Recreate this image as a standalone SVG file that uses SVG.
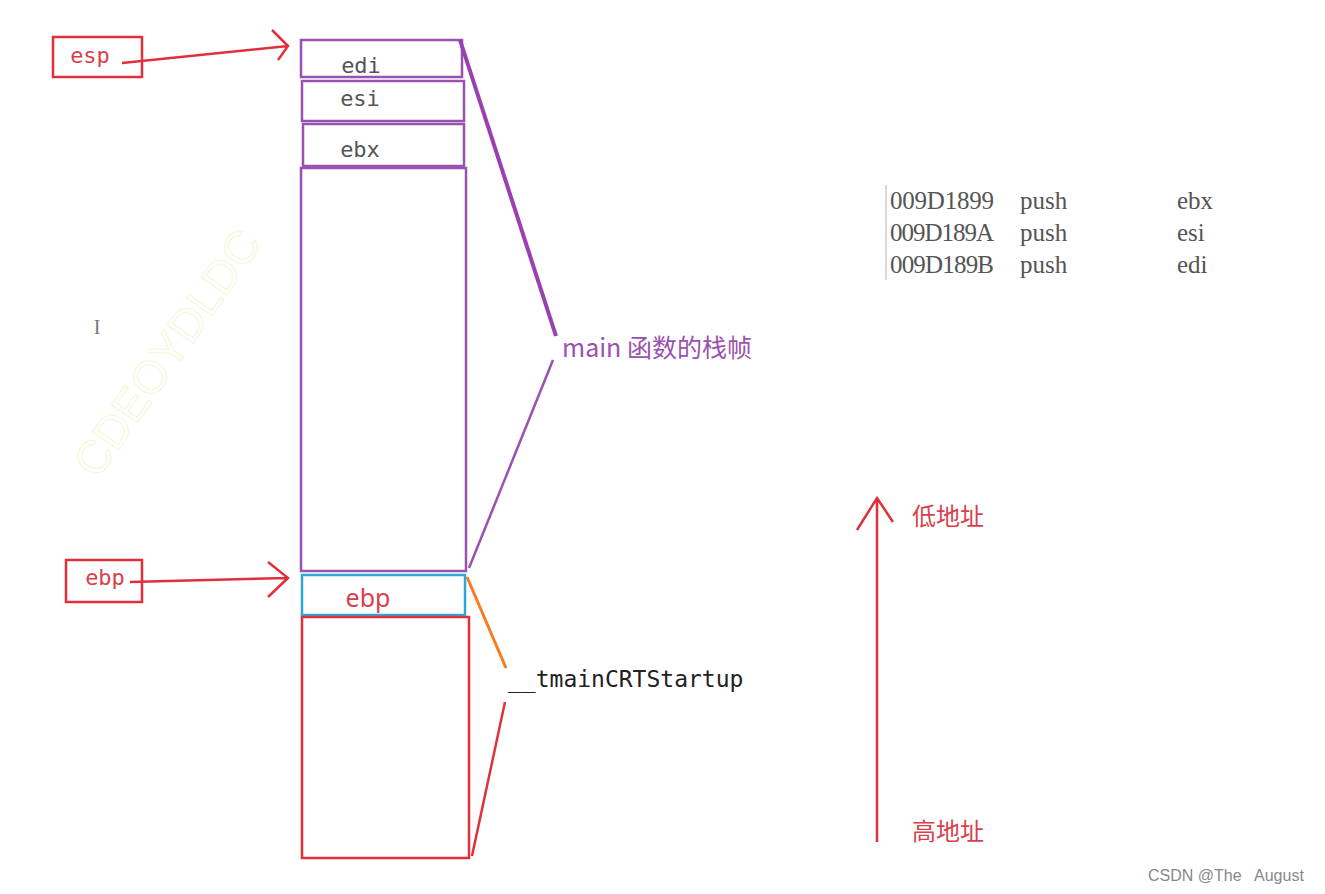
<svg xmlns="http://www.w3.org/2000/svg" width="1325" height="894" viewBox="0 0 1325 894">
<style>
.red{fill:none;stroke:#e0303c;stroke-width:2.5}
.pur{fill:none;stroke:#9a52b0;stroke-width:2.5}
.reg{font-family:"DejaVu Sans Mono",monospace;font-size:22px;fill:#555}
.rtxt{font-family:"DejaVu Sans Mono",monospace;font-size:22px;fill:#d8404c}
.stxt{font-family:"Noto Sans",sans-serif;font-size:25px;fill:#d8404c}
.code{font-family:"Liberation Serif",serif;font-size:25px;fill:#555}
.cjk{font-family:"Noto Sans CJK SC",sans-serif;font-size:24px}
</style>
<rect width="1325" height="894" fill="#fff"/>
<text x="180" y="362" transform="rotate(-55 180 362)" text-anchor="middle" font-family="Liberation Sans,sans-serif" font-size="46" fill="none" stroke="#eefad6" stroke-width="1">CDEOYDLDC</text>
<text x="97" y="334" font-family="Liberation Serif,serif" font-size="20" fill="#777" text-anchor="middle">I</text>
<g id="esp-label"><rect class="red" x="53" y="37" width="89" height="40"/><text class="rtxt" x="90" y="63" text-anchor="middle">esp</text></g>
<g id="ebp-label"><rect class="red" x="66" y="560" width="76" height="42"/><text class="rtxt" x="105" y="585" text-anchor="middle">ebp</text></g>
<g id="edi"><rect class="pur" x="301" y="40" width="161" height="37"/><text class="reg" x="361" y="73" text-anchor="middle">edi</text></g>
<g id="esi"><rect class="pur" x="302" y="81" width="162" height="40"/><text class="reg" x="360" y="106" text-anchor="middle">esi</text></g>
<g id="ebx"><rect class="pur" x="303" y="124" width="161" height="42"/><text class="reg" x="360" y="157" text-anchor="middle">ebx</text></g>
<g id="main-frame"><rect class="pur" x="301" y="168" width="165" height="403"/></g>
<g id="ebp-slot"><rect x="302" y="575" width="163" height="40" fill="none" stroke="#2aa8d8" stroke-width="2.5"/><text class="stxt" x="368" y="607" text-anchor="middle">ebp</text></g>
<g id="crt-frame"><rect class="red" x="302" y="617" width="167" height="241"/></g>
<g id="connectors">
<path class="red" d="M122 63 L288 46 M272 30 L288 46 L278 60"/>
<path class="red" d="M130 582 L288 578 M268 562 L288 578 L268 597"/>
<line x1="460" y1="40" x2="556" y2="336" stroke="#9a40b0" stroke-width="4"/>
<line x1="553" y1="360" x2="469" y2="568" stroke="#9a52b0" stroke-width="2.5"/>
<line x1="467" y1="577" x2="506" y2="668" stroke="#f57c20" stroke-width="3"/>
<line x1="505" y1="702" x2="472" y2="856" class="red"/>
<path class="red" d="M877 842 L877 498 M857 530 L877 498 L893 522"/>
</g>
<text class="cjk" x="562" y="357" fill="#9a52b0" style="font-size:25px">main 函数的栈帧</text>
<text x="508" y="687" font-family="DejaVu Sans Mono,monospace" font-size="23" fill="#222">__tmainCRTStartup</text>
<g id="code">
<line x1="886" y1="185" x2="886" y2="280" stroke="#ccc" stroke-width="1.5"/>
<text class="code" x="890" y="209" textLength="104">009D1899</text><text class="code" x="1020" y="209">push</text><text class="code" x="1177" y="209">ebx</text>
<text class="code" x="890" y="241" textLength="104">009D189A</text><text class="code" x="1020" y="241">push</text><text class="code" x="1177" y="241">esi</text>
<text class="code" x="890" y="273" textLength="104">009D189B</text><text class="code" x="1020" y="273">push</text><text class="code" x="1177" y="273">edi</text>
</g>
<text class="cjk" x="912" y="525" fill="#d8404c">低地址</text>
<text class="cjk" x="912" y="840" fill="#d8404c">高地址</text>
<text x="1148" y="881" xml:space="preserve" font-family="Liberation Sans,sans-serif" font-size="16" fill="#888">CSDN @The   August</text>
</svg>
